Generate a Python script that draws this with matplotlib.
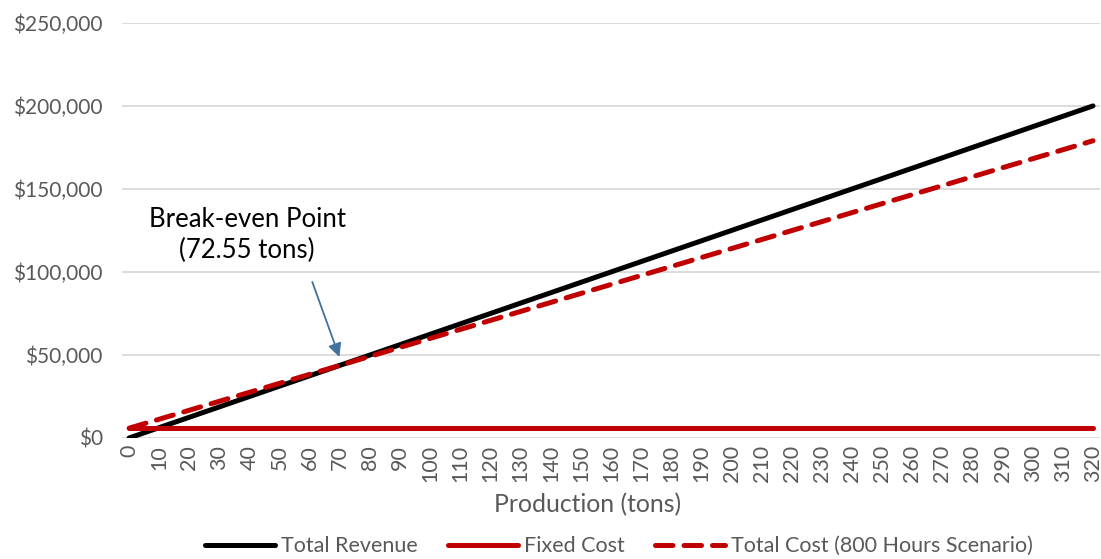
import matplotlib.pyplot as plt
from matplotlib.ticker import FuncFormatter

# data
production = [0, 10, 20, 30, 40, 50, 60, 70, 80, 90, 100, 110, 120, 130, 140, 150, 160,
              170, 180, 190, 200, 210, 220, 230, 240, 250, 260, 270, 280, 290, 300, 310, 320]
total_revenue = [0, 6250, 12500, 18750, 25000, 31250, 37500, 43750, 50000, 56250, 62500,
                 68750, 75000, 81250, 87500, 93750, 100000, 106250, 112500, 118750, 125000,
                 131250, 137500, 143750, 150000, 156250, 162500, 168750, 175000, 181250,
                 187500, 193750, 200000]
fixed_cost = [5900, 5900, 5900, 5900, 5900, 5900, 5900, 5900, 5900, 5900, 5900, 5900, 5900,
              5900, 5900, 5900, 5900, 5900, 5900, 5900, 5900, 5900, 5900, 5900, 5900, 5900,
              5900, 5900, 5900, 5900, 5900, 5900, 5900]
total_cost = [5900, 11310, 16720, 22130, 27540, 32950, 38360, 43770, 49180, 54590, 60000,
              65410, 70820, 76230, 81640, 87050, 92460, 97870, 103280, 108690, 114100,
              119510, 124920, 130330, 135740, 141150, 146560, 151970, 157380, 162790,
              168200, 173610, 179020]
break_even_tons = 72.55
break_even_value = 45300

plt.rcParams['font.family'] = ['Lato', 'DejaVu Sans']
grey = '#595959'
red = '#C00000'

fig = plt.figure(figsize=(11.01, 5.59), dpi=100)
ax = fig.add_axes([0.111, 0.2165, 0.888, 0.7425])

l1, = ax.plot(production, total_revenue, color='black', lw=3.6, solid_capstyle='round',
              label='Total Revenue', zorder=3)
l2, = ax.plot(production, fixed_cost, color=red, lw=3.6, solid_capstyle='round',
              label='Fixed Cost', zorder=3)
l3, = ax.plot(production, total_cost, color=red, lw=3.6, dashes=(3.5, 2.2),
              dash_capstyle='round', label='Total Cost (800 Hours Scenario)', zorder=4)

ax.set_xlim(-2.3, 322.3)
ax.set_ylim(0, 250000)
ax.set_xticks(production)
ax.set_xticklabels([str(p) for p in production], rotation=90)
ax.set_yticks(range(0, 250001, 50000))
ax.yaxis.set_major_formatter(FuncFormatter(lambda v, _: f'${v:,.0f}'))

ax.grid(axis='y', color='#D9D9D9', lw=1.3)
ax.set_axisbelow(True)
for s in ax.spines.values():
    s.set_visible(False)
ax.tick_params(length=0, labelsize=15.5, colors=grey, pad=5)
ax.tick_params(axis='y', labelsize=15, pad=14)

ax.set_xlabel('Production (tons)', fontsize=17.8, color=grey)
ax.xaxis.label.set_va('center')
ax.xaxis.set_label_coords(0.476, -0.161)

# break-even label and arrow
ax.text(39.2, 122300, 'Break-even Point\n(72.55 tons)', ha='center', va='center',
        fontsize=18.5, color='black', linespacing=1.3)
ax.annotate('', xy=(69.8, 48800), xytext=(60.8, 94000),
            arrowprops=dict(arrowstyle='-|>', color='#41719C', lw=1.3,
                            mutation_scale=20, shrinkA=0, shrinkB=0))

leg = fig.legend(handles=[l1, l2, l3], loc='center', bbox_to_anchor=(0.562, 0.023),
                 ncol=3, frameon=False, fontsize=15.5, handlelength=3.25,
                 columnspacing=1.4, handletextpad=0.28)
for t in leg.get_texts():
    t.set_color(grey)

fig.savefig('out.png', dpi=100)
